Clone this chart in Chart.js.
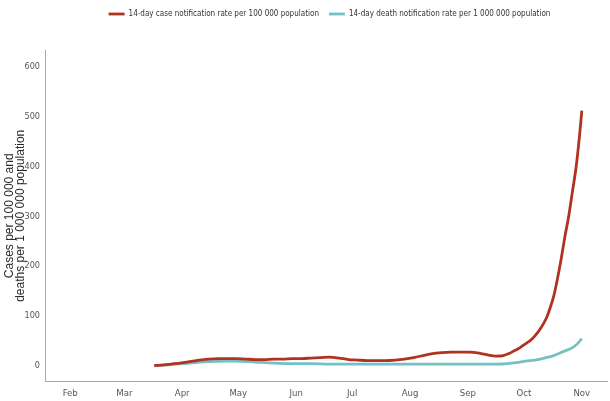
<!DOCTYPE html>
<html>
<head>
<meta charset="utf-8">
<script src="https://cdn.jsdelivr.net/npm/chart.js@4.4.0/dist/chart.umd.min.js"></script>
<style>
  html, body { margin: 0; padding: 0; background: #fff; }
  #wrap { width: 610px; height: 401px; }
</style>
</head>
<body>
<div id="wrap"><canvas id="chart"></canvas></div>
<script>
// day of year (0 = 1 Jan 2020)
const monthLabels = ["Feb", "Mar", "Apr", "May", "Jun", "Jul", "Aug", "Sep", "Oct", "Nov"];
const monthDays = [31, 60, 91, 121, 152, 182, 213, 244, 274, 305];
const yTicks = [0, 100, 200, 300, 400, 500, 600];

const caseDays = [76, 80, 85, 90, 95, 100, 105, 110, 115, 120, 125, 130, 135, 140, 145, 150, 155, 160, 165, 170, 175, 180, 185, 190, 195, 200, 205, 210, 215, 220, 225, 230, 235, 240, 245, 250, 255, 259, 263, 266, 269, 272, 275, 278, 280, 283, 286, 288, 290, 292, 294, 296, 298, 300, 302, 304, 305];
const caseRate = [0, 1, 3, 5, 8, 11, 13, 14, 14, 14, 13, 12, 12, 13, 13, 14, 14, 15, 16, 17, 15, 12, 11, 10, 10, 10, 11, 13, 16, 20, 24, 26, 27, 27, 27, 25, 21, 19, 20, 24, 30, 36, 44, 52, 60, 75, 95, 115, 140, 175, 215, 260, 300, 350, 400, 470, 512];

const deathDays = [76, 85, 95, 105, 115, 120, 130, 140, 150, 160, 170, 180, 190, 200, 210, 220, 230, 240, 250, 260, 265, 270, 275, 280, 285, 290, 295, 300, 303, 305];
const deathRate = [0, 2, 5, 8, 9, 9, 7, 5, 4, 4, 3, 3, 3, 3, 3, 3, 3, 3, 3, 3, 4, 6, 9, 11, 15, 20, 28, 36, 45, 54];

const seriesNames = [
  "14-day case notification rate per 100 000 population",
  "14-day death notification rate per 1 000 000 population"
];

const toPoints = (xs, ys) => xs.map((x, i) => ({ x: x, y: ys[i] }));

const narrow = "'Liberation Sans Narrow', 'Arial Narrow', 'DejaVu Sans Condensed', sans-serif";

new Chart(document.getElementById("chart"), {
  type: "line",
  data: {
    datasets: [
      {
        label: seriesNames[0],
        data: toPoints(caseDays, caseRate),
        borderColor: "#b03220",
        backgroundColor: "#b03220",
        borderWidth: 2.8,
        pointRadius: 0,
        cubicInterpolationMode: "monotone"
      },
      {
        label: seriesNames[1],
        data: toPoints(deathDays, deathRate),
        borderColor: "#72c2c4",
        backgroundColor: "#72c2c4",
        borderWidth: 2.8,
        pointRadius: 0,
        cubicInterpolationMode: "monotone"
      }
    ]
  },
  options: {
    responsive: true,
    maintainAspectRatio: false,
    animation: false,
    layout: { padding: { top: 0, right: 3, bottom: 0, left: 0 } },
    plugins: {
      legend: {
        position: "top",
        labels: {
          usePointStyle: true,
          pointStyle: "line",
          pointStyleWidth: 16,
          color: "#333",
          font: { family: narrow, size: 8 },
          padding: 10
        }
      },
      tooltip: { enabled: false }
    },
    scales: {
      x: {
        type: "linear",
        min: 17.5,
        max: 318.5,
        afterBuildTicks: axis => {
          axis.ticks = monthDays.map(v => ({ value: v }));
        },
        ticks: {
          callback: v => monthLabels[monthDays.indexOf(v)],
          color: "#555",
          font: { family: narrow, size: 9.5 },
          padding: 2,
          maxRotation: 0
        },
        grid: { display: false, drawTicks: true, tickLength: 4, tickColor: "#999" },
        border: { display: true, color: "#aaa", width: 1 }
      },
      y: {
        min: -32.3,
        max: 634,
        afterBuildTicks: axis => {
          axis.ticks = yTicks.map(v => ({ value: v }));
        },
        afterFit: axis => { axis.width = 45; },
        ticks: {
          color: "#555",
          font: { family: narrow, size: 9 },
          padding: 2
        },
        grid: { display: false, drawTicks: true, tickLength: 3, tickColor: "#999" },
        border: { display: true, color: "#aaa", width: 1 },
        title: {
          display: true,
          text: ["Cases per 100 000 and", "deaths per 1 000 000 population"],
          color: "#2a2a2a",
          font: { family: "'Liberation Sans', Arial, sans-serif", size: 12, lineHeight: 0.85 },
          padding: { top: 5, bottom: 0 }
        }
      }
    }
  },
  plugins: [{
    id: "legendSpace",
    beforeInit(chart) {
      const fit = chart.legend.fit;
      chart.legend.fit = function () {
        fit.bind(chart.legend)();
        this.height = 50;
      };
    },
    afterLayout(chart) {
      // legend in the reference sits centred over the plot, not the canvas
      chart.legend.left += 52;
    }
  }]
});
</script>
</body>
</html>
